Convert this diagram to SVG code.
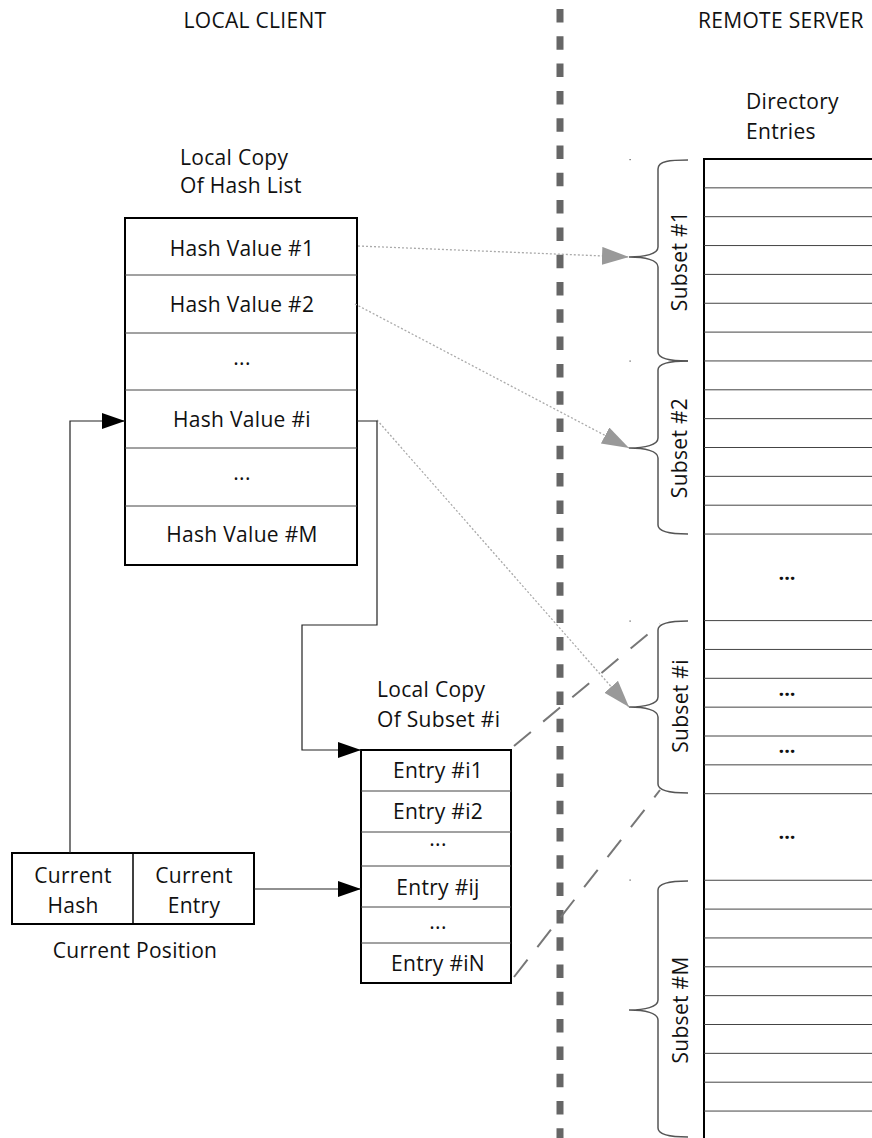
<svg xmlns="http://www.w3.org/2000/svg" width="872" height="1138" viewBox="0 0 872 1138">
<style>
text{font-family:"Open Sans","Noto Sans","DejaVu Sans",sans-serif;font-size:21px;letter-spacing:0.3px;fill:#111}
.c{text-anchor:middle}
.box{fill:#fff;stroke:#000;stroke-width:2}
.row{stroke:#444;stroke-width:1;fill:none}
.conn{stroke:#222;stroke-width:1.2;fill:none}
.dot{stroke:#aaa;stroke-width:1.3;stroke-dasharray:2 2;fill:none}
.dash{stroke:#777;stroke-width:2;stroke-dasharray:22 16;fill:none}
.brace{stroke:#555;stroke-width:1.5;fill:none}
.ell{font-weight:bold;text-anchor:middle;font-size:20px;letter-spacing:0}
</style>
<defs>
<marker id="ab" markerUnits="userSpaceOnUse" markerWidth="24" markerHeight="16" refX="23" refY="8" orient="auto"><path d="M0,0 L23,8 L0,16 Z" fill="#000"/></marker>
<marker id="ag" markerUnits="userSpaceOnUse" markerWidth="28" markerHeight="20" refX="27" refY="9" orient="auto"><path d="M0,0 L27,9 L0,18 Z" fill="#999"/></marker>
</defs>

<line x1="560" y1="9" x2="560" y2="1138" stroke="#666" stroke-width="7" stroke-dasharray="13.5 13.8"/>

<text id="lbl-local" class="c" x="255" y="28">LOCAL CLIENT</text>
<text id="lbl-remote" x="698" y="28">REMOTE SERVER</text>

<g id="hash-list">
<text x="180" y="165">Local Copy</text>
<text x="180" y="193">Of Hash List</text>
<rect class="box" x="125" y="218" width="232" height="347"/>
<path class="row" d="M125 275H357M125 333H357M125 390H357M125 448H357M125 506H357"/>
<text class="c" x="242" y="256">Hash Value #1</text>
<text class="c" x="242" y="312">Hash Value #2</text>
<text class="c" x="242" y="365">...</text>
<text class="c" x="242" y="427">Hash Value #i</text>
<text class="c" x="242" y="480">...</text>
<text class="c" x="242" y="542">Hash Value #M</text>
</g>

<g id="subset-copy">
<text x="377" y="697">Local Copy</text>
<text x="377" y="727">Of Subset #i</text>
<rect class="box" x="361" y="750" width="150" height="233"/>
<path class="row" d="M361 791H511M361 832H511M361 866H511M361 907H511M361 943H511"/>
<text class="c" x="438" y="778">Entry #i1</text>
<text class="c" x="438" y="819">Entry #i2</text>
<text class="c" x="438" y="846">...</text>
<text class="c" x="438" y="895">Entry #ij</text>
<text class="c" x="438" y="929">...</text>
<text class="c" x="438" y="971">Entry #iN</text>
</g>

<g id="current-position">
<rect class="box" x="12" y="853" width="242" height="71"/>
<line x1="133" y1="853" x2="133" y2="924" stroke="#000" stroke-width="1.5"/>
<text class="c" x="73" y="883">Current</text>
<text class="c" x="73" y="913">Hash</text>
<text class="c" x="194" y="883">Current</text>
<text class="c" x="194" y="913">Entry</text>
<text class="c" x="135" y="958">Current Position</text>
</g>

<g id="directory">
<text x="746" y="109">Directory</text>
<text x="746" y="139">Entries</text>
<path d="M873 159H704V1140" fill="none" stroke="#000" stroke-width="2"/>
<path class="row" d="M704 187.85H872M704 216.7H872M704 245.55H872M704 274.4H872M704 303.25H872M704 332.1H872M704 360.95H872M704 389.8H872M704 418.65H872M704 447.5H872M704 476.35H872M704 505.2H872M704 534.05H872M704 620.6H872M704 649.45H872M704 678.3H872M704 707.15H872M704 736H872M704 764.85H872M704 793.7H872M704 880.25H872M704 909.1H872M704 937.95H872M704 966.8H872M704 995.65H872M704 1024.5H872M704 1053.35H872M704 1082.2H872M704 1111.05H872"/>
<text class="ell" x="787" y="580">...</text>
<text class="ell" x="787" y="696">...</text>
<text class="ell" x="787" y="753">...</text>
<text class="ell" x="787" y="839">...</text>
</g>

<g id="subset-1">
<path class="brace" d="M688 160C670 160 658 161 658 169V247C658 254 645 257 629 257C645 257 658 260 658 267V352C658 359 670 361 688 361"/>
<text class="c" transform="translate(687 261) rotate(-90)">Subset #1</text>
</g>
<g id="subset-2">
<path class="brace" d="M688 361C670 361 658 363 658 370V438C658 445 645 448 629 448C645 448 658 451 658 458V525C658 532 670 534 688 534"/>
<text class="c" transform="translate(687 448) rotate(-90)">Subset #2</text>
</g>
<g id="subset-i">
<path class="brace" d="M688 621C670 621 658 623 658 630V697C658 704 645 707 629 707C645 707 658 710 658 717V784C658 791 670 793 688 793"/>
<text class="c" transform="translate(688 706) rotate(-90)">Subset #i</text>
</g>
<g id="subset-M">
<path class="brace" d="M688 881C670 881 658 883 658 890V1000C658 1007 645 1010 629 1010C645 1010 658 1013 658 1020V1128C658 1135 670 1137 688 1137"/>
<text class="c" transform="translate(688 1010) rotate(-90)">Subset #M</text>
</g>
<g fill="#555">
<rect x="629.5" y="159" width="1.2" height="1.2"/>
<rect x="629.5" y="360.5" width="1.2" height="1.2"/>
<rect x="629.5" y="620.5" width="1.2" height="1.2"/>
<rect x="629.5" y="879.5" width="1.2" height="1.2"/>
</g>

<g id="connectors">
<path class="dot" d="M358 246L629 257" marker-end="url(#ag)"/>
<path class="dot" d="M355 304L629 448" marker-end="url(#ag)"/>
<path class="dot" d="M377 420L629 707" marker-end="url(#ag)"/>
<path class="conn" d="M357 421H377V625H302V750H361" marker-end="url(#ab)"/>
<path class="conn" d="M70 853V421H125" marker-end="url(#ab)"/>
<path class="conn" d="M254 889H361" marker-end="url(#ab)"/>
<path class="dash" d="M514 746L660 624"/>
<path class="dash" d="M514 977L660 790"/>
</g>
</svg>
